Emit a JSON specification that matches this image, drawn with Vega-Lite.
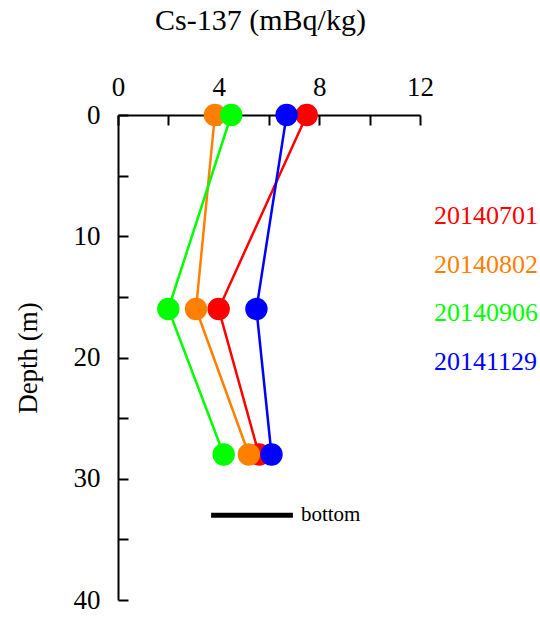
{
  "$schema": "https://vega.github.io/schema/vega-lite/v6.json",
  "width": 302,
  "height": 485,
  "autosize": {"type": "none"},
  "padding": {"left": 118, "top": 115, "right": 120, "bottom": 23},
  "background": "white",
  "config": {"view": {"stroke": null}, "font": "Liberation Serif"},
  "datasets": {
    "profiles": [
      {"date": "20140701", "cs": 7.5, "depth": 0},
      {"date": "20140701", "cs": 4.0, "depth": 16},
      {"date": "20140701", "cs": 5.6, "depth": 28},
      {"date": "20140802", "cs": 3.85, "depth": 0},
      {"date": "20140802", "cs": 3.1, "depth": 16},
      {"date": "20140802", "cs": 5.2, "depth": 28},
      {"date": "20140906", "cs": 4.5, "depth": 0},
      {"date": "20140906", "cs": 2.0, "depth": 16},
      {"date": "20140906", "cs": 4.2, "depth": 28},
      {"date": "20141129", "cs": 6.7, "depth": 0},
      {"date": "20141129", "cs": 5.5, "depth": 16},
      {"date": "20141129", "cs": 6.1, "depth": 28}
    ],
    "bottom": [{"cs": 3.7, "cs2": 6.95, "depth": 33, "label": "bottom"}]
  },
  "layer": [
    {
      "data": {"name": "profiles"},
      "mark": {"type": "line", "strokeWidth": 2.5},
      "encoding": {
        "x": {
          "field": "cs", "type": "quantitative",
          "scale": {"domain": [0, 12], "nice": false, "zero": false},
          "axis": {
            "orient": "top", "title": "Cs-137 (mBq/kg)",
            "values": [0, 2, 4, 6, 8, 10, 12],
            "labelExpr": "datum.value % 4 == 0 ? datum.label : ''",
            "tickSize": -10, "tickWidth": 2, "tickColor": "black",
            "domainColor": "black", "domainWidth": 2, "grid": false,
            "labelFont": "Liberation Serif", "labelFontSize": 27, "labelColor": "black",
            "labelPadding": 24, "labelFlush": false, "labelOverlap": false,
            "titleFont": "Liberation Serif", "titleFontSize": 30, "titleFontWeight": "normal",
            "titleColor": "black", "titlePadding": 38, "titleX": 142
          }
        },
        "y": {
          "field": "depth", "type": "quantitative",
          "scale": {"domain": [0, 40], "reverse": true, "nice": false},
          "axis": {
            "title": "Depth (m)",
            "values": [0, 5, 10, 15, 20, 25, 30, 35, 40],
            "labelExpr": "datum.value % 10 == 0 ? datum.label : ''",
            "tickSize": -10, "tickWidth": 2, "tickColor": "black",
            "domainColor": "black", "domainWidth": 2, "grid": false,
            "labelFont": "Liberation Serif", "labelFontSize": 27, "labelColor": "black",
            "labelPadding": 28, "labelFlush": false, "labelOverlap": false,
            "titleFont": "Liberation Serif", "titleFontSize": 27, "titleFontWeight": "normal",
            "titleColor": "black", "titlePadding": 31
          }
        },
        "order": {"field": "depth", "type": "quantitative"},
        "color": {
          "field": "date", "type": "nominal",
          "scale": {"domain": ["20140701", "20140802", "20140906", "20141129"], "range": ["#ff0000", "#ff8000", "#00ff00", "#0000ff"]},
          "legend": {
            "orient": "none", "legendX": 290, "legendY": 88, "title": null,
            "symbolSize": 0, "symbolOpacity": 0, "symbolStrokeWidth": 0,
            "labelOffset": 0, "labelFont": "Liberation Serif", "labelFontSize": 26,
            "rowPadding": 22.5, "labelLimit": 0,
            "encode": {"labels": {"update": {"fill": {"scale": "color", "field": "value"}}}}
          }
        }
      }
    },
    {
      "data": {"name": "profiles"},
      "mark": {"type": "point", "filled": true, "size": 500, "opacity": 1, "shape": "circle"},
      "encoding": {
        "x": {"field": "cs", "type": "quantitative", "title": "Cs-137 (mBq/kg)"},
        "y": {"field": "depth", "type": "quantitative", "title": "Depth (m)"},
        "color": {"field": "date", "type": "nominal", "legend": null}
      }
    },
    {
      "data": {"name": "bottom"},
      "mark": {"type": "rule", "strokeWidth": 5, "color": "black"},
      "encoding": {
        "x": {"field": "cs", "type": "quantitative", "title": "Cs-137 (mBq/kg)"},
        "x2": {"field": "cs2"},
        "y": {"field": "depth", "type": "quantitative", "title": "Depth (m)"}
      }
    },
    {
      "data": {"name": "bottom"},
      "mark": {"type": "text", "align": "left", "baseline": "middle", "dx": 8, "fontSize": 21, "font": "Liberation Serif", "color": "black"},
      "encoding": {
        "x": {"field": "cs2", "type": "quantitative", "title": "Cs-137 (mBq/kg)"},
        "y": {"field": "depth", "type": "quantitative", "title": "Depth (m)"},
        "text": {"field": "label"}
      }
    }
  ]
}
